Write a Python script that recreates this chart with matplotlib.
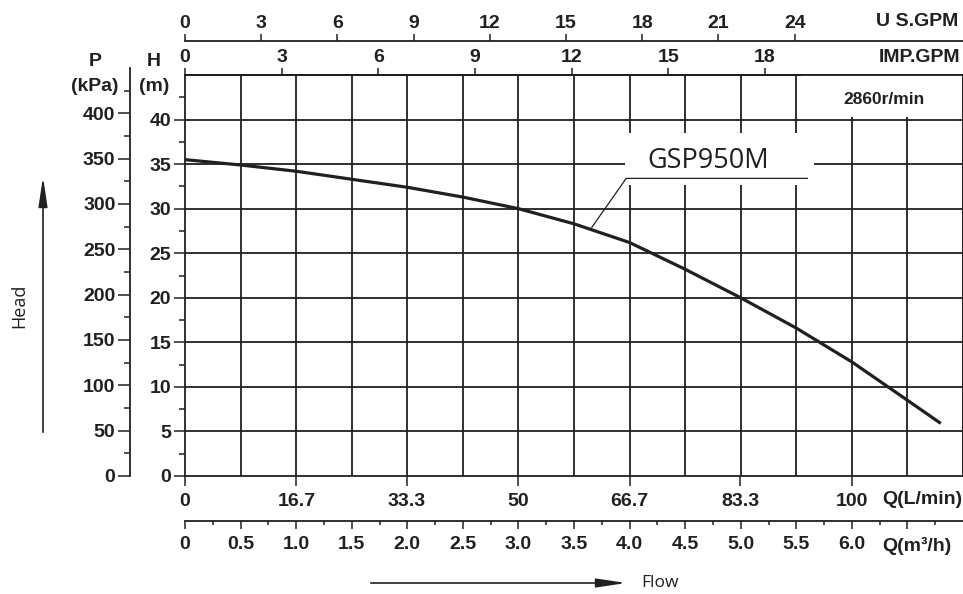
import numpy as np
import matplotlib
matplotlib.use("Agg")
import matplotlib.pyplot as plt
from matplotlib.patches import Rectangle, FancyArrowPatch
from matplotlib.ticker import FixedLocator

plt.rcParams['font.family'] = ['Liberation Sans', 'DejaVu Sans']

# pump curve (flow in m3/h, head in m)
flow_m3h = [0, 0.5, 1.0, 1.5, 2.0, 2.5, 3.0, 3.5, 4.0, 4.5, 5.0, 5.5, 6.0, 6.5, 6.8]
head_m = [35.5, 34.9, 34.2, 33.3, 32.4, 31.3, 30.0, 28.3, 26.2, 23.2, 20.0, 16.6, 12.8, 8.5, 5.9]

# axis scales
h_ticks = [0, 5, 10, 15, 20, 25, 30, 35, 40]
p_ticks = [0, 50, 100, 150, 200, 250, 300, 350, 400]
lmin_ticks = [0, 16.7, 33.3, 50, 66.7, 83.3, 100]
m3h_ticks = [0, 0.5, 1.0, 1.5, 2.0, 2.5, 3.0, 3.5, 4.0, 4.5, 5.0, 5.5, 6.0, 6.5]
imp_ticks = [0, 3, 6, 9, 12, 15, 18]
us_ticks = [0, 3, 6, 9, 12, 15, 18, 21, 24]
model = 'GSP950M'
speed = '2860r/min'

INK = '#231f20'
W, H = 963, 594

def fx(px):
    return px / W

def fy(py):
    return 1 - py / H

fig = plt.figure(figsize=(W / 100, H / 100), dpi=100)
ax = fig.add_axes([fx(185), fy(476), 778 / W, 401 / H])
ax.set_xlim(0, 7.0)
ax.set_ylim(0, 45)
for s in ax.spines.values():
    s.set_color(INK)
    s.set_linewidth(1.3)

# grid
ax.vlines(np.arange(0.5, 7.01, 0.5), 0, 45, color=INK, lw=1.3, zorder=1)
ax.hlines(h_ticks[1:], 0, 7.0, color=INK, lw=1.3, zorder=1)

# white areas behind labels
ax.add_patch(Rectangle((5.55, 40.25), 1.44, 4.7, facecolor='white', edgecolor='none', zorder=2))
ax.add_patch(Rectangle((3.96, 32.7), 1.70, 5.8, facecolor='white', edgecolor='none', zorder=2))

ax.plot(flow_m3h, head_m, color=INK, lw=2.3, zorder=4, solid_capstyle='butt')
ax.plot([3.66, 3.97, 5.6], [27.9, 33.4, 33.4], color=INK, lw=0.9, zorder=3)
ax.text(4.71, 35.3, model, ha='center', va='center', fontsize=19.5, family='Open Sans',
        color=INK, zorder=3)
ax.text(6.29, 42.2, speed, ha='center', va='center', fontsize=12.5, weight='bold', color=INK, zorder=3)

tick_font = dict(fontsize=14, weight='bold', color=INK)

# H axis
ax.set_yticks(h_ticks)
ax.yaxis.set_minor_locator(FixedLocator(np.arange(2.5, 45, 5)))
ax.set_yticklabels([str(v) for v in h_ticks], **tick_font)
ax.tick_params(axis='y', which='major', direction='out', length=8, width=1.1, color=INK, pad=2)
ax.tick_params(axis='y', which='minor', direction='out', length=4, width=1.1, color=INK)

# L/min on the main bottom spine
ax.set_xticks(np.array(lmin_ticks) * 0.06)
ax.set_xticklabels([f'{v:g}' for v in lmin_ticks], **tick_font)
ax.tick_params(axis='x', direction='out', length=7, width=1.1, color=INK, pad=5)

# m3/h axis below
ax_m3 = ax.secondary_xaxis(-45 / 401, functions=(lambda q: q, lambda q: q))
ax_m3.set_xticks(m3h_ticks)
ax_m3.set_xticklabels(['0'] + [f'{v:.1f}' for v in m3h_ticks[1:-1]] + [''], **tick_font)
ax_m3.xaxis.set_minor_locator(FixedLocator(np.arange(0.25, 7.0, 0.5)))
ax_m3.tick_params(axis='x', which='major', direction='out', length=6, width=1.1, color=INK, pad=5)
ax_m3.tick_params(axis='x', which='minor', direction='out', length=3, width=1.1, color=INK)
ax_m3.spines['bottom'].set_linewidth(1.3)
ax_m3.spines['bottom'].set_color(INK)

# IMP.GPM on top spine
ax_imp = ax.secondary_xaxis('top', functions=(lambda q: q * 3.45, lambda g: g / 3.45))
ax_imp.set_xticks(imp_ticks)
ax_imp.set_xticklabels([str(v) for v in imp_ticks], **tick_font)
ax_imp.tick_params(axis='x', direction='out', length=5, width=1.1, color=INK, pad=1.5)
ax_imp.spines['top'].set_linewidth(1.3)

# US GPM above
ax_us = ax.secondary_xaxis(1 + 34 / 401, functions=(lambda q: q * 4.375, lambda g: g / 4.375))
ax_us.set_xticks(us_ticks)
ax_us.set_xticklabels([str(v) for v in us_ticks], **tick_font)
ax_us.tick_params(axis='x', direction='out', length=5, width=1.1, color=INK, pad=1.5)
ax_us.spines['top'].set_linewidth(1.3)
ax_us.spines['top'].set_color(INK)

# P axis (kPa)
ax_p = fig.add_axes([fx(130), fy(476), 0.001, 408 / H])
ax_p.set_ylim(0, 450)
ax_p.patch.set_visible(False)
for k in ['top', 'right', 'bottom']:
    ax_p.spines[k].set_visible(False)
ax_p.spines['left'].set_linewidth(1.3)
ax_p.spines['left'].set_color(INK)
ax_p.set_xticks([])
ax_p.set_yticks(p_ticks)
ax_p.yaxis.set_minor_locator(FixedLocator(np.arange(25, 450, 50)))
ax_p.set_yticklabels([str(v) for v in p_ticks], **tick_font)
ax_p.tick_params(axis='y', which='major', direction='out', length=8.5, width=1.1, color=INK, pad=2)
ax_p.tick_params(axis='y', which='minor', direction='out', length=4.3, width=1.1, color=INK)

# axis titles
fig.text(fx(95), fy(62), 'P', ha='center', va='center', **tick_font)
fig.text(fx(95), fy(87), '(kPa)', ha='center', va='center', **tick_font)
fig.text(fx(154), fy(62), 'H', ha='center', va='center', **tick_font)
fig.text(fx(154), fy(87), '(m)', ha='center', va='center', **tick_font)
fig.text(fx(958), fy(21), 'U S.GPM', ha='right', va='center', **tick_font)
fig.text(fx(960), fy(58), 'IMP.GPM', ha='right', va='center', **tick_font)
fig.text(fx(962), fy(500), 'Q(L/min)', ha='right', va='center', **tick_font)
fig.text(fx(882), fy(546), 'Q(m³/h)', ha='left', va='center', **tick_font)

# Head / Flow arrows
arrow_style = '-|>,head_length=1.0,head_width=0.15'
fig.text(fx(19), fy(306), 'Head', rotation=90, ha='center', va='center',
         fontsize=13, family='Open Sans', color=INK)
fig.patches.append(FancyArrowPatch(
    (fx(43), fy(435)), (fx(43), fy(174)), transform=fig.transFigure,
    arrowstyle=arrow_style, mutation_scale=18, color=INK, lw=1.2))
fig.text(fx(641), fy(583), 'Flow', ha='left', va='center',
         fontsize=12.5, family='Open Sans', color=INK)
fig.patches.append(FancyArrowPatch(
    (fx(368), fy(583)), (fx(629), fy(583)), transform=fig.transFigure,
    arrowstyle=arrow_style, mutation_scale=18, color=INK, lw=1.2))

fig.savefig('out.png', dpi=100)
